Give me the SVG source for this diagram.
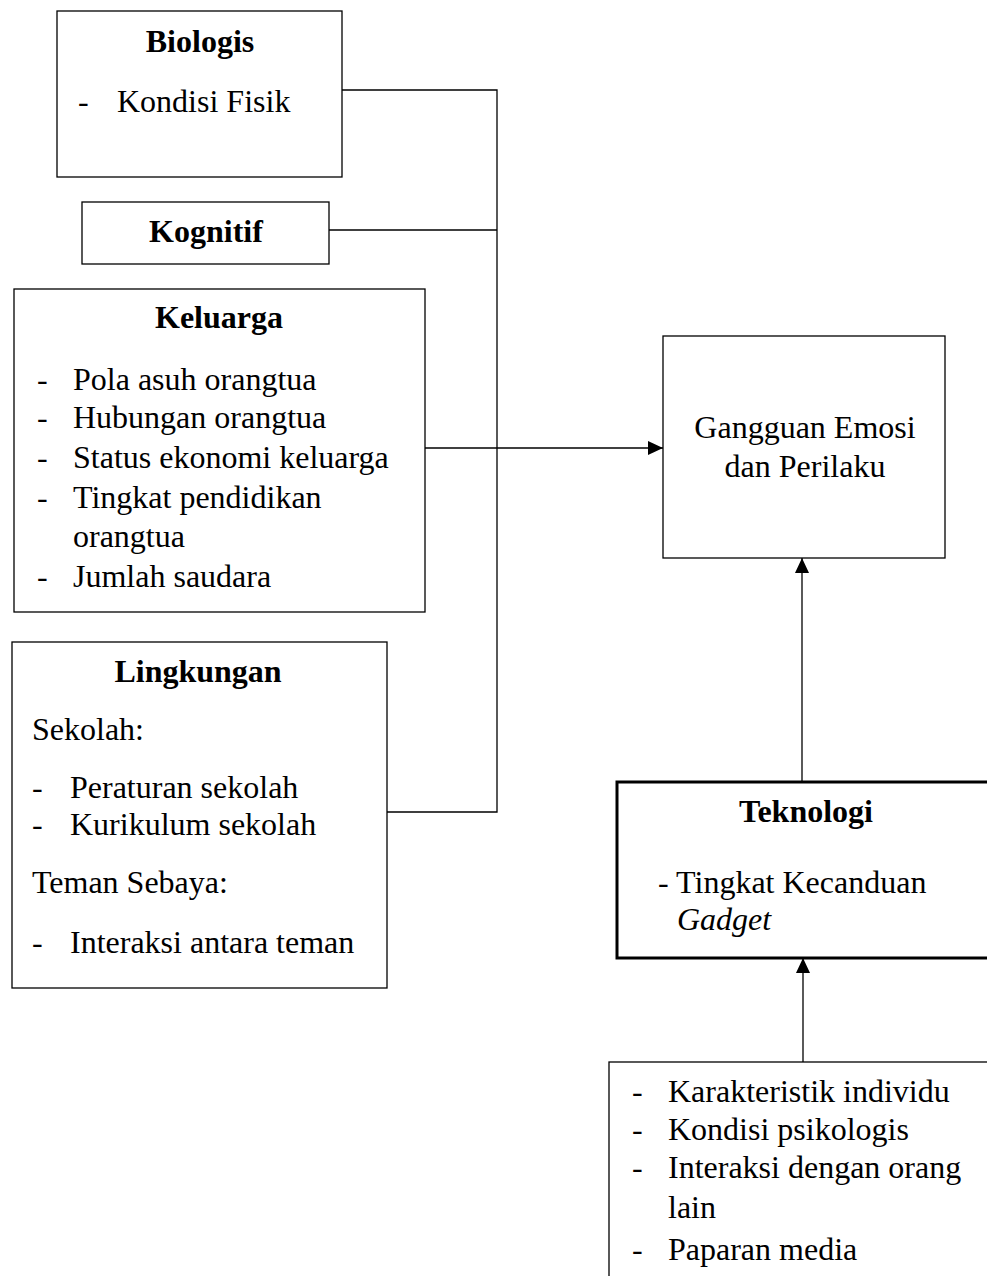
<svg xmlns="http://www.w3.org/2000/svg" width="987" height="1276" viewBox="0 0 987 1276">
<style>
.box{fill:#fff;stroke:#000;stroke-width:1.3}
.thick{fill:#fff;stroke:#000;stroke-width:3}
.t{font-family:"Liberation Serif","Times New Roman",serif;font-size:32px;fill:#000}
.b{font-weight:bold;text-anchor:middle}
.c{text-anchor:middle}
.i{font-style:italic}
.ln{fill:none;stroke:#000;stroke-width:1.3}
</style>
<defs>
<marker id="ah" markerWidth="15" markerHeight="14" refX="15" refY="7" orient="auto" markerUnits="userSpaceOnUse">
<path d="M0,0 L15,7 L0,14 Z" fill="#000"/>
</marker>
</defs>
<rect width="987" height="1276" fill="#fff"/>
<g id="connectors">
<polyline class="ln" points="342,90 497,90 497,812 387,812"/>
<line class="ln" x1="329" y1="230" x2="497" y2="230"/>
<line class="ln" x1="425" y1="448" x2="663" y2="448" marker-end="url(#ah)"/>
<line class="ln" x1="802" y1="782" x2="802" y2="558" marker-end="url(#ah)"/>
<line class="ln" x1="803" y1="1062" x2="803" y2="958" marker-end="url(#ah)"/>
</g>
<g id="biologis">
<rect class="box" x="57" y="11" width="285" height="166"/>
<text class="t b" x="200" y="52">Biologis</text>
<text class="t" x="78" y="112">-</text>
<text class="t" x="117" y="112">Kondisi Fisik</text>
</g>
<g id="kognitif">
<rect class="box" x="82" y="202" width="247" height="62"/>
<text class="t b" x="206" y="242">Kognitif</text>
</g>
<g id="keluarga">
<rect class="box" x="14" y="289" width="411" height="323"/>
<text class="t b" x="219" y="328">Keluarga</text>
<text class="t" x="37" y="390">-</text><text class="t" x="73" y="390">Pola asuh orangtua</text>
<text class="t" x="37" y="428">-</text><text class="t" x="73" y="428">Hubungan orangtua</text>
<text class="t" x="37" y="468">-</text><text class="t" x="73" y="468">Status ekonomi keluarga</text>
<text class="t" x="37" y="508">-</text><text class="t" x="73" y="508">Tingkat pendidikan</text>
<text class="t" x="73" y="547">orangtua</text>
<text class="t" x="37" y="587">-</text><text class="t" x="73" y="587">Jumlah saudara</text>
</g>
<g id="lingkungan">
<rect class="box" x="12" y="642" width="375" height="346"/>
<text class="t b" x="198" y="682">Lingkungan</text>
<text class="t" x="32" y="740">Sekolah:</text>
<text class="t" x="32" y="798">-</text><text class="t" x="70" y="798">Peraturan sekolah</text>
<text class="t" x="32" y="835">-</text><text class="t" x="70" y="835">Kurikulum sekolah</text>
<text class="t" x="32" y="893">Teman Sebaya:</text>
<text class="t" x="32" y="953">-</text><text class="t" x="70" y="953">Interaksi antara teman</text>
</g>
<g id="gangguan">
<rect class="box" x="663" y="336" width="282" height="222"/>
<text class="t c" x="805" y="438">Gangguan Emosi</text>
<text class="t c" x="805" y="477">dan Perilaku</text>
</g>
<g id="teknologi">
<rect class="thick" x="617" y="782" width="380" height="176"/>
<text class="t b" x="806" y="822">Teknologi</text>
<text class="t" x="658" y="893">- Tingkat Kecanduan</text>
<text class="t i" x="677" y="930">Gadget</text>
</g>
<g id="faktor">
<rect class="box" x="609" y="1062" width="390" height="230"/>
<text class="t" x="632" y="1102">-</text><text class="t" x="668" y="1102">Karakteristik individu</text>
<text class="t" x="632" y="1140">-</text><text class="t" x="668" y="1140">Kondisi psikologis</text>
<text class="t" x="632" y="1178">-</text><text class="t" x="668" y="1178">Interaksi dengan orang</text>
<text class="t" x="668" y="1218">lain</text>
<text class="t" x="632" y="1260">-</text><text class="t" x="668" y="1260">Paparan media</text>
</g>
</svg>
